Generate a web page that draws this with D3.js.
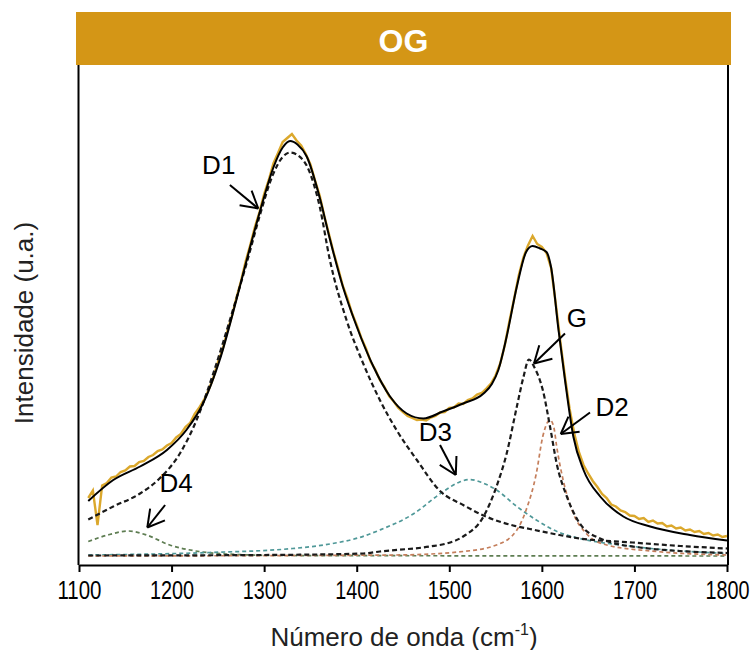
<!DOCTYPE html>
<html>
<head>
<meta charset="utf-8">
<script src="https://cdn.jsdelivr.net/npm/d3@7"></script>
<style>
  body { margin: 0; background: #fff; }
  text { font-family: "Liberation Sans", Arial, sans-serif; }
</style>
</head>
<body>
<div class="svg-container"></div>
<script>
// Raman spectrum of OG, fitted bands D1, D2, D3, D4 and G
var xTicks = [1100, 1200, 1300, 1400, 1500, 1600, 1700, 1800];
var xMinor = [1150, 1250, 1350, 1450, 1550, 1650, 1750];

// measured spectrum, sampled every 5 cm-1 from 1110 to 1800
var specX = d3.range(1110, 1801, 5);
var specY = [13.4, 14.9, 8.0, 15.9, 16.4, 17.5, 17.7, 18.6, 18.9, 19.7, 19.8, 20.6, 20.8, 21.6, 22.0, 22.8, 23.1, 23.9,
  24.4, 25.5, 26.2, 27.6, 28.4, 30.2, 31.5, 33.0, 35.0, 37.4, 40.5, 43.0, 46.6, 49.7, 53.4, 56.8, 60.7, 64.0, 67.6, 70.6,
  74.2, 77.0, 80.3, 82.4, 84.6, 85.4, 86.2, 84.9, 83.9, 82.2, 80.1, 76.9, 73.9, 69.8, 66.2, 62.5, 59.3, 55.8, 53.3, 50.3,
  48.0, 45.4, 43.3, 40.7, 39.1, 37.0, 35.6, 33.8, 32.7, 31.4, 30.6, 29.8, 29.4, 29.0, 29.1, 28.9, 29.5, 29.8, 30.5, 30.6,
  31.4, 31.5, 32.3, 32.2, 33.0, 33.3, 34.1, 34.4, 35.3, 36.3, 37.9, 40.3, 44.0, 48.8, 53.2, 57.9, 61.5, 63.9, 65.8, 64.2,
  63.6, 62.4, 59.4, 52.3, 44.6, 37.6, 31.2, 26.3, 22.6, 20.0, 18.3, 16.8, 15.6, 14.2, 13.4, 12.1, 11.7, 10.9, 10.6, 9.9,
  9.8, 9.2, 9.4, 8.6, 8.9, 8.3, 8.4, 7.7, 7.9, 7.3, 7.5, 6.9, 7.1, 6.6, 6.8, 6.2, 6.4, 5.9, 6.1, 5.6, 5.8];

// cumulative fit
var fit = [[1110, 12.8], [1137, 17.0], [1166, 19.7], [1195, 23.0], [1216, 27.0], [1234, 32.3], [1252, 41.0],
  [1270, 53.0], [1285, 63.7], [1297, 71.7], [1310, 79.5], [1320, 83.5], [1328, 84.8], [1336, 84.1], [1346, 81.7],
  [1360, 73.5], [1371, 65.2], [1385, 55.7], [1400, 47.7], [1418, 39.7], [1436, 33.7], [1454, 30.3], [1472, 29.3],
  [1493, 30.7], [1515, 32.3], [1537, 34.3], [1546, 36.2], [1553, 39.0], [1562, 45.7], [1573, 55.7], [1583, 62.6],
  [1590, 63.8], [1598, 63.3], [1605, 62.6], [1610, 59.5], [1618, 47.0], [1625, 37.0], [1634, 25.7], [1645, 19.0],
  [1663, 13.7], [1688, 9.7], [1717, 7.7], [1760, 6.0], [1800, 4.9]];

// fitted bands
var d1 = [[1110, 9.1], [1137, 11.7], [1166, 14.3], [1187, 17.3], [1209, 22.3], [1227, 29.0], [1245, 38.3],
  [1263, 49.0], [1281, 60.3], [1295, 69.7], [1310, 78.3], [1320, 81.6], [1328, 82.5], [1342, 81.0], [1360, 71.7],
  [1371, 61.0], [1389, 49.0], [1407, 40.3], [1425, 33.0], [1443, 27.0], [1465, 21.0], [1490, 14.8], [1515, 12.0],
  [1537, 9.9], [1569, 7.9], [1587, 7.2], [1619, 6.0], [1637, 5.4], [1698, 4.5], [1750, 3.8], [1800, 3.3]];
var g = [[1110, 1.9], [1300, 2.0], [1407, 2.3], [1425, 2.7], [1479, 3.7], [1497, 4.3], [1515, 5.7], [1537, 9.7],
  [1551, 15.7], [1562, 22.3], [1573, 31.7], [1580, 37.5], [1586, 41.1], [1592, 39.5], [1601, 35.0], [1609, 27.5],
  [1616, 20.3], [1627, 13.7], [1641, 8.3], [1663, 5.3], [1706, 3.5], [1800, 2.4]];
var d2 = [[1110, 1.8], [1443, 2.0], [1515, 2.7], [1551, 4.0], [1573, 7.0], [1583, 11.0], [1594, 18.3], [1601, 25.7],
  [1606, 28.5], [1609, 29.0], [1613, 27.5], [1616, 23.7], [1623, 17.0], [1634, 10.3], [1648, 6.3], [1670, 4.0],
  [1724, 2.7], [1800, 2.0]];
var d3band = [[1110, 2.0], [1241, 2.5], [1331, 3.3], [1371, 4.2], [1403, 5.5], [1425, 7.0], [1461, 10.2],
  [1492, 14.5], [1510, 16.5], [1522, 17.1], [1535, 16.5], [1551, 15.0], [1573, 11.7], [1594, 9.0], [1619, 6.5],
  [1637, 5.5], [1699, 3.7], [1800, 2.3]];
var d4 = [[1110, 4.7], [1133, 6.1], [1153, 6.8], [1173, 6.0], [1198, 4.0], [1223, 2.9], [1259, 2.2], [1320, 1.9],
  [1800, 1.8]];

// labels: [text, label x, label y, arrow tail x, tail y, tip x, tip y] in data units
var labels = [
  ["D1", 1233, 78.2, 1263, 76.0, 1293.7, 71.3],
  ["G", 1627, 47.6, 1625, 46.3, 1591.5, 40.3],
  ["D2", 1658, 29.8, 1652, 30.5, 1620.4, 26.2],
  ["D3", 1467, 24.8, 1490, 24.0, 1507, 18.0],
  ["D4", 1187, 14.6, 1193, 12.0, 1173.8, 7.5]
];

var svg = d3.select(".svg-container").append("svg")
  .attr("width", 753)
  .attr("height", 650);

var x = d3.scaleLinear().domain([1100, 1800]).range([79, 727]);
var y = d3.scaleLinear().domain([0, 100]).range([565, 65]);

// title bar
svg.append("rect")
  .attr("x", 76).attr("y", 12)
  .attr("width", 655).attr("height", 53)
  .attr("fill", "#D49616");
svg.append("text")
  .attr("x", 403.5).attr("y", 52)
  .attr("text-anchor", "middle")
  .attr("font-size", "32px")
  .attr("font-weight", "bold")
  .attr("fill", "white")
  .text("OG");

var line = d3.line()
  .x(function(d) { return x(d[0]); })
  .y(function(d) { return y(d[1]); })
  .curve(d3.curveMonotoneX);

// spectrum
var spec = specX.map(function(v, i) { return [v, specY[i]]; });
svg.append("path")
  .datum(spec)
  .attr("d", d3.line().x(function(d) { return x(d[0]); }).y(function(d) { return y(d[1]); }))
  .attr("fill", "none")
  .attr("stroke", "#DBA82C")
  .attr("stroke-width", 2.4);

// bands
var bands = [
  { data: d4, color: "#5E7D52", w: 1.7, dash: "4,3" },
  { data: d3band, color: "#4F9898", w: 1.7, dash: "4,3" },
  { data: d2, color: "#C47E5B", w: 1.7, dash: "4,3" },
  { data: g, color: "#1a1a1a", w: 2.2, dash: "5,3" },
  { data: d1, color: "#1a1a1a", w: 2.2, dash: "5,3" }
];
bands.forEach(function(b) {
  svg.append("path")
    .datum(b.data)
    .attr("d", line)
    .attr("fill", "none")
    .attr("stroke", b.color)
    .attr("stroke-width", b.w)
    .attr("stroke-dasharray", b.dash);
});

// fit
svg.append("path")
  .datum(fit)
  .attr("d", line)
  .attr("fill", "none")
  .attr("stroke", "black")
  .attr("stroke-width", 2);

// labels and arrows
labels.forEach(function(l) {
  svg.append("text")
    .attr("x", x(l[1])).attr("y", y(l[2]))
    .attr("font-size", "26px")
    .attr("fill", "black")
    .text(l[0]);
  var x0 = x(l[3]), y0 = y(l[4]), x1 = x(l[5]), y1 = y(l[6]);
  svg.append("line")
    .attr("x1", x0).attr("y1", y0).attr("x2", x1).attr("y2", y1)
    .attr("stroke", "black").attr("stroke-width", 2);
  var a = Math.atan2(y0 - y1, x0 - x1);
  [-0.52, 0.52].forEach(function(da) {
    svg.append("line")
      .attr("x1", x1).attr("y1", y1)
      .attr("x2", x1 + 19 * Math.cos(a + da))
      .attr("y2", y1 + 19 * Math.sin(a + da))
      .attr("stroke", "black").attr("stroke-width", 2);
  });
});

// frame
svg.append("line")
  .attr("x1", 78.5).attr("x2", 78.5).attr("y1", y(100)).attr("y2", y(0))
  .attr("stroke", "black").attr("stroke-width", 2);
svg.append("line")
  .attr("x1", 728).attr("x2", 728).attr("y1", y(100)).attr("y2", y(0))
  .attr("stroke", "black").attr("stroke-width", 2);

// x axis
var gx = svg.append("g").attr("transform", "translate(0,565)");
gx.call(d3.axisBottom(x).tickValues(xMinor).tickSize(4).tickSizeOuter(0).tickFormat(""));
gx.call(d3.axisBottom(x).tickValues(xTicks).tickSize(7).tickSizeOuter(0).tickPadding(9).tickFormat(d3.format("d")));
gx.selectAll("path.domain").attr("stroke-width", 2).attr("stroke", "black");
gx.selectAll(".tick line").attr("stroke-width", 2).attr("stroke", "black");
gx.selectAll(".tick text")
  .attr("font-size", "26px")
  .attr("font-family", "Liberation Sans, Arial, sans-serif")
  .attr("fill", "black")
  .attr("textLength", 44)
  .attr("lengthAdjust", "spacingAndGlyphs");

// axis titles
var xt = svg.append("text")
  .attr("x", 404).attr("y", 646)
  .attr("text-anchor", "middle")
  .attr("font-size", "26px")
  .attr("fill", "#222");
xt.append("tspan").text("Número de onda (cm");
xt.append("tspan").attr("font-size", "16px").attr("dy", -11).text("-1");
xt.append("tspan").attr("dy", 11).text(")");

svg.append("text")
  .attr("transform", "translate(33,323) rotate(-90)")
  .attr("text-anchor", "middle")
  .attr("font-size", "26px")
  .attr("fill", "#222")
  .text("Intensidade (u.a.)");
</script>
</body>
</html>
